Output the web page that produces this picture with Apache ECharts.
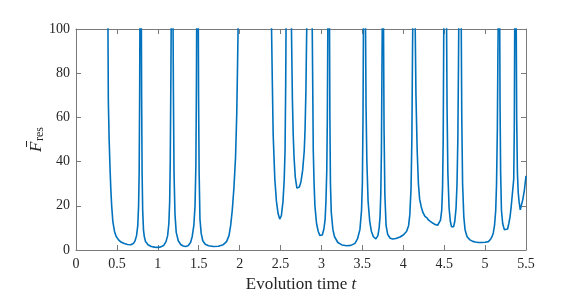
<!DOCTYPE html>
<html><head><meta charset="utf-8">
<script src="https://cdn.jsdelivr.net/npm/echarts@6/dist/echarts.min.js"></script>
<style>html,body{margin:0;padding:0;background:#fff}#c{width:581px;height:291px}</style>
</head><body><div id="c"></div>
<script>
var xTicks = [0, 0.5, 1, 1.5, 2, 2.5, 3, 3.5, 4, 4.5, 5, 5.5];
var yTicks = [0, 20, 40, 60, 80, 100];
var times = [0.38,0.39,0.395,0.405,0.415,0.425,0.436,0.45,0.47,0.49,0.52,0.55,0.59,0.63,0.67,0.70,0.72,0.74,0.755,0.765,0.772,0.778,0.782,0.79,0.798,0.802,0.808,0.815,0.825,0.835,0.85,0.88,0.92,0.96,0.99,1.03,1.07,1.10,1.12,1.135,1.145,1.152,1.16,1.165,1.175,1.185,1.19,1.198,1.21,1.225,1.25,1.28,1.31,1.34,1.37,1.40,1.42,1.44,1.455,1.465,1.472,1.476,1.485,1.494,1.498,1.505,1.515,1.53,1.55,1.58,1.62,1.68,1.74,1.80,1.84,1.87,1.89,1.91,1.93,1.95,1.965,1.975,1.985,2.0,2.2,2.38,2.39,2.40,2.41,2.43,2.45,2.47,2.49,2.51,2.53,2.545,2.555,2.563,2.568,2.60,2.63,2.637,2.645,2.655,2.665,2.68,2.70,2.717,2.73,2.75,2.77,2.79,2.80,2.81,2.818,2.825,2.855,2.885,2.892,2.90,2.91,2.92,2.94,2.96,2.98,2.995,3.01,3.03,3.045,3.055,3.065,3.072,3.078,3.088,3.098,3.103,3.11,3.12,3.14,3.16,3.20,3.25,3.31,3.36,3.41,3.44,3.47,3.49,3.50,3.508,3.513,3.525,3.538,3.545,3.555,3.57,3.59,3.61,3.635,3.665,3.69,3.705,3.716,3.725,3.733,3.74,3.745,3.75,3.758,3.765,3.775,3.79,3.81,3.84,3.87,3.91,3.96,4.00,4.04,4.065,4.08,4.095,4.105,4.113,4.118,4.13,4.143,4.155,4.17,4.185,4.20,4.22,4.24,4.265,4.29,4.31,4.33,4.36,4.39,4.42,4.44,4.455,4.47,4.48,4.488,4.495,4.51,4.528,4.535,4.545,4.56,4.575,4.59,4.604,4.615,4.63,4.645,4.657,4.667,4.675,4.68,4.695,4.708,4.715,4.725,4.74,4.755,4.78,4.815,4.85,4.88,4.92,4.96,5.00,5.04,5.07,5.09,5.10,5.115,5.13,5.14,5.15,5.157,5.162,5.17,5.178,5.183,5.19,5.20,5.215,5.235,5.255,5.275,5.29,5.305,5.32,5.335,5.35,5.357,5.362,5.37,5.38,5.386,5.395,5.405,5.415,5.43,5.445,5.46,5.48,5.5];
var fres = [130,105,68,50,38,28,20,13,8.5,6.2,4.6,3.6,2.9,2.5,2.4,2.9,4.0,6.5,11,20,35,70,110,250,110,70,35,18,9,6,3.8,2.4,1.6,1.3,1.2,1.3,2.0,3.8,6.5,12,22,40,80,110,250,110,75,35,16,8,4.2,2.5,1.8,1.6,1.9,3.4,6,11,20,38,75,110,250,110,70,35,14,7.5,4.2,2.6,1.9,1.6,1.7,2.4,3.8,6.5,11,18,28,42,62,85,110,150,300,130,100,75,52,32,22,16.5,14,15.5,22,32,45,75,105,200,110,90,68,52,42,33,28,27.3,28.5,31,36,45,55,72,95,110,200,110,80,45,30,20,12,8.5,6.6,6.2,6.8,9.5,14,22,36,60,100,250,105,60,30,17,9.2,6,3.4,2.3,1.9,2.1,3.0,5,9.2,18,30,60,100,250,105,65,40,22,13,8.5,6,5,6.5,10,15,25,45,85,110,250,105,55,25,11,7,5.3,5.0,5.2,5.9,6.8,8.4,11,16,28,50,90,110,250,110,70,45,30,23,19.5,17,15.2,14.5,13.5,13,12.2,11.5,11.2,11.6,13.5,18,28,50,100,250,110,65,35,19,13,10.5,9.9,10.5,13,19,30,50,85,110,250,105,60,30,15,9.2,6,4.6,3.9,3.6,3.4,3.4,3.5,3.8,5,6.5,7.7,11,18,30,55,90,110,250,110,65,35,18,12,9.2,8.4,9.5,12,15,20,26,32,55,100,250,105,60,35,26,22,18.2,19,22.7,27,33.5];

var axisColor = '#7a7a7a';
var textColor = '#262626';
var font = 'Liberation Serif, Times New Roman, serif';
var chart = echarts.init(document.getElementById('c'), null, {renderer: 'canvas'});
var data = times.map(function (t, i) { return [t, fres[i]]; });
var xMin = xTicks[0], xMax = xTicks[xTicks.length - 1], xInt = xTicks[1] - xTicks[0];
var yMin = yTicks[0], yMax = yTicks[yTicks.length - 1], yInt = yTicks[1] - yTicks[0];
chart.setOption({
  animation: false,
  backgroundColor: '#fff',
  grid: {left: 76, right: 55, top: 29, bottom: 41, containLabel: false, outerBoundsMode: 'none'},
  graphic: [{
    type: 'group', x: 41, y: 152, rotation: Math.PI / 2, silent: true,
    children: [
      {type: 'text', style: {text: 'F', x: 0, y: 4, font: 'italic 17px Liberation Serif', fill: textColor, verticalAlign: 'bottom', align: 'left'}},
      {type: 'text', style: {text: 'res', x: 11, y: 5, font: '12px Liberation Serif', fill: textColor, verticalAlign: 'bottom', align: 'left'}},
      {type: 'line', shape: {x1: 5, y1: -14.5, x2: 11, y2: -14.5}, style: {stroke: textColor, lineWidth: 1}}
    ]
  }],
  xAxis: [{
    type: 'value', min: xMin, max: xMax, interval: xInt,
    axisLine: {show: true, lineStyle: {color: axisColor, width: 1}},
    axisTick: {show: true, inside: true, length: 5, lineStyle: {color: axisColor}},
    axisLabel: {color: textColor, fontFamily: font, fontSize: 14, margin: 7},
    splitLine: {show: false},
    name: '{a|Evolution time }{b|t}',
    nameLocation: 'middle', nameGap: 24,
    nameTextStyle: {rich: {
      a: {fontFamily: font, fontSize: 17, color: textColor},
      b: {fontFamily: font, fontSize: 17, fontStyle: 'italic', color: textColor}
    }}
  }, {
    type: 'value', min: xMin, max: xMax, interval: xInt, position: 'top',
    axisLine: {show: true, onZero: false, lineStyle: {color: axisColor, width: 1}},
    axisTick: {show: true, inside: true, length: 5, lineStyle: {color: axisColor}},
    axisLabel: {show: false}, splitLine: {show: false}
  }],
  yAxis: [{
    type: 'value', min: yMin, max: yMax, interval: yInt,
    axisLine: {show: true, lineStyle: {color: axisColor, width: 1}},
    axisTick: {show: true, inside: true, length: 5, lineStyle: {color: axisColor}},
    axisLabel: {color: textColor, fontFamily: font, fontSize: 14, margin: 6},
    splitLine: {show: false}
  }, {
    type: 'value', min: yMin, max: yMax, interval: yInt, position: 'right',
    axisLine: {show: true, onZero: false, lineStyle: {color: axisColor, width: 1}},
    axisTick: {show: true, inside: true, length: 5, lineStyle: {color: axisColor}},
    axisLabel: {show: false}, splitLine: {show: false}
  }],
  series: [{
    type: 'line', data: data, showSymbol: false, clip: true,
    xAxisIndex: 0, yAxisIndex: 0,
    lineStyle: {color: '#0072BD', width: 1.6},
    itemStyle: {color: '#0072BD'}
  }]
});
</script></body></html>
